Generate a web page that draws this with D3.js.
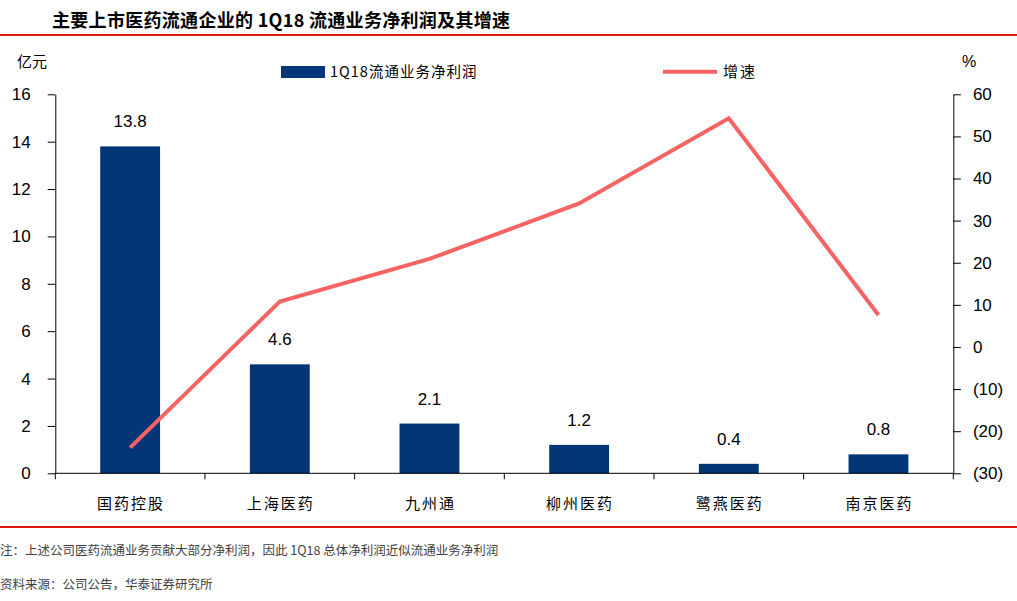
<!DOCTYPE html>
<html>
<head>
<meta charset="utf-8">
<script src="https://cdn.jsdelivr.net/npm/d3@7"></script>
<style>
  body { margin:0; background:#fff; }
  svg { display:block; }
  text { font-family: "Liberation Sans", Arial, sans-serif; fill:#000; }
  .cjk { font-family: "Noto Sans CJK SC", sans-serif; }
</style>
</head>
<body>
<div class="canvas"></div>
<script>
/* 主要上市医药流通企业 1Q18 流通业务净利润及增速 */
var companies = ["国药控股","上海医药","九州通","柳州医药","鹭燕医药","南京医药"];
var profit = [13.8, 4.6, 2.1, 1.2, 0.4, 0.8];      // 亿元
var growth = [-23.9, 10.8, 20.9, 34.1, 54.3, 7.6];  // %
var leftTicks = [0,2,4,6,8,10,12,14,16];
var rightTicks = [-30,-20,-10,0,10,20,30,40,50,60];

var W = 1017, H = 601;
var margin = {t:94.3, r:W-953.3, b:H-473.3, l:55.3};
var width = W - margin.l - margin.r,
    height = H - margin.t - margin.b;

var svg = d3.select('.canvas')
    .append('svg')
    .attr('width', W)
    .attr('height', H);

// title + red rules
svg.append('text')
    .attr('class','cjk')
    .attr('x', 52).attr('y', 27)
    .style('font-size','18px')
    .style('font-weight','700')
    .style('letter-spacing','0.3px')
    .text('主要上市医药流通企业的 1Q18 流通业务净利润及其增速');
svg.append('line').attr('x1',0).attr('x2',W).attr('y1',35).attr('y2',35)
    .style('stroke','#e0190f').style('stroke-width',2);
svg.append('line').attr('x1',0).attr('x2',W).attr('y1',527).attr('y2',527)
    .style('stroke','#e0190f').style('stroke-width',2);

var canvas = svg.append('g')
    .attr('transform','translate('+margin.l+','+margin.t+')');

var x = d3.scaleBand().domain(companies).range([0,width]).padding(0);
var yL = d3.scaleLinear().domain([0,16]).range([height,0]);
var yR = d3.scaleLinear().domain([-30,60]).range([height,0]);

var barW = x.bandwidth()*0.4;

// bars
canvas.append('g').selectAll('rect')
    .data(profit)
    .enter()
    .append('rect')
    .attr('x', function(d,i){ return x(companies[i]) + (x.bandwidth()-barW)/2; })
    .attr('y', function(d){ return yL(d); })
    .attr('width', barW)
    .attr('height', function(d){ return height - yL(d); })
    .style('fill','#023677');

// bar labels
canvas.append('g').selectAll('text')
    .data(profit)
    .enter()
    .append('text')
    .attr('x', function(d,i){ return x(companies[i]) + x.bandwidth()/2; })
    .attr('y', function(d){ return yL(d) - 19; })
    .attr('text-anchor','middle')
    .style('font-size','17px')
    .text(function(d){ return d.toFixed(1); });

// growth line
var line = d3.line()
    .x(function(d,i){ return x(companies[i]) + x.bandwidth()/2; })
    .y(function(d){ return yR(d); });
canvas.append('path')
    .datum(growth)
    .attr('d', line)
    .style('fill','none')
    .style('stroke','#f66363')
    .style('stroke-width',4)
    .style('stroke-linejoin','miter');

// left axis
var axL = canvas.append('g')
    .call(d3.axisLeft(yL).tickValues(leftTicks).tickSize(7.6).tickSizeOuter(0).tickPadding(17));
// right axis
var axR = canvas.append('g')
    .attr('transform','translate('+width+',0)')
    .call(d3.axisRight(yR).tickValues(rightTicks).tickSize(7.6).tickSizeOuter(0).tickPadding(12)
        .tickFormat(function(d){ return d < 0 ? '(' + Math.abs(d) + ')' : d; }));
[axL, axR].forEach(function(a){
    a.selectAll('text').style('font-size','17px').style('font-family','"Liberation Sans", Arial, sans-serif').attr('fill','#000');
    a.selectAll('line,path').attr('stroke','#000');
});

// bottom axis: line, boundary ticks, labels
var axB = canvas.append('g').attr('transform','translate(0,'+height+')');
axB.append('line').attr('x1',0).attr('x2',width).attr('stroke','#000');
var bounds = companies.map(function(c){ return x(c); }).concat([width]);
axB.selectAll('.tk')
    .data(bounds)
    .enter()
    .append('line')
    .attr('x1',function(d){return d;}).attr('x2',function(d){return d;})
    .attr('y1',0).attr('y2',6)
    .attr('stroke','#000');
axB.selectAll('.lab')
    .data(companies)
    .enter()
    .append('text')
    .attr('class','cjk')
    .attr('x',function(d){ return x(d) + x.bandwidth()/2 + 1; })
    .attr('y',36)
    .attr('text-anchor','middle')
    .style('font-size','15px')
    .style('letter-spacing','2px')
    .text(function(d){return d;});

// axis units
svg.append('text').attr('class','cjk').attr('x',17).attr('y',67)
    .style('font-size','15px').text('亿元');
svg.append('text').attr('x',962).attr('y',67)
    .style('font-size','16px').text('%');

// legend
svg.append('rect').attr('x',281).attr('y',66).attr('width',44).attr('height',12)
    .style('fill','#023677');
svg.append('text').attr('class','cjk').attr('x',330).attr('y',77)
    .style('font-size','14.5px').style('letter-spacing','1px').text('1Q18流通业务净利润');
svg.append('line').attr('x1',663).attr('x2',717).attr('y1',71.7).attr('y2',71.7)
    .style('stroke','#f66363').style('stroke-width',4);
svg.append('text').attr('class','cjk').attr('x',723).attr('y',77)
    .style('font-size','15px').style('letter-spacing','2px').text('增速');

// notes
svg.append('text').attr('class','cjk').attr('x',0).attr('y',555)
    .style('font-size','12.5px').style('fill','#404040')
    .text('注：上述公司医药流通业务贡献大部分净利润，因此 1Q18 总体净利润近似流通业务净利润');
svg.append('text').attr('class','cjk').attr('x',0).attr('y',589)
    .style('font-size','12.5px').style('fill','#404040')
    .text('资料来源：公司公告，华泰证券研究所');
</script>
</body>
</html>
